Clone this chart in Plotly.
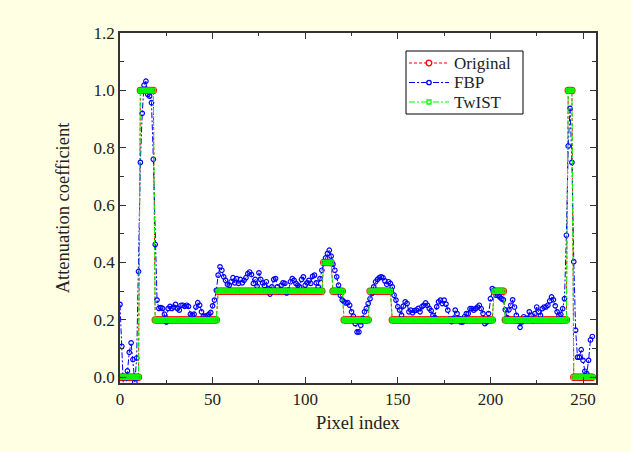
import numpy as np
import plotly.graph_objects as go

# ---- data ----
pixel_count = 256
# Original phantom profile as run-length (level, run)
orig_level = [0.0, 1.0, 0.2, 0.3, 0.4, 0.3, 0.2, 0.3, 0.2, 0.3, 0.2, 1.0, 0.0]
orig_run = [11, 8, 34, 57, 5, 6, 14, 12, 55, 6, 34, 3, 11]
# TwIST reconstruction (visually identical to the original)
twist_level = [0.0, 1.0, 0.2, 0.3, 0.4, 0.3, 0.2, 0.3, 0.2, 0.3, 0.2, 1.0, 0.0]
twist_run = [11, 8, 34, 57, 5, 6, 14, 12, 55, 6, 34, 3, 11]

fbp = [
    0.254, 0.108, -0.06, -0.05, 0.022, 0.087, 0.12, 0.062, -0.017, 0.067,
    0.369, 0.749, 0.92, 1.018, 1.032, 0.986, 0.98, 0.957, 0.76, 0.463,
    0.269, 0.24, 0.243, 0.24, 0.22, 0.193, 0.24, 0.247, 0.24, 0.245,
    0.254, 0.24, 0.234, 0.251, 0.251, 0.247, 0.251, 0.247, 0.22, 0.216,
    0.22, 0.245, 0.26, 0.251, 0.228, 0.213, 0.213, 0.214, 0.22, 0.226,
    0.249, 0.269, 0.303, 0.356, 0.385, 0.373, 0.35, 0.338, 0.324, 0.321,
    0.333, 0.347, 0.329, 0.344, 0.327, 0.341, 0.329, 0.338, 0.347, 0.361,
    0.367, 0.358, 0.327, 0.341, 0.317, 0.364, 0.341, 0.329, 0.32, 0.333,
    0.309, 0.29, 0.315, 0.341, 0.344, 0.315, 0.298, 0.32, 0.329, 0.327,
    0.294, 0.304, 0.333, 0.344, 0.338, 0.327, 0.321, 0.315, 0.341, 0.35,
    0.321, 0.329, 0.338, 0.327, 0.352, 0.356, 0.329, 0.315, 0.344, 0.373,
    0.399, 0.416, 0.431, 0.443, 0.422, 0.394, 0.373, 0.35, 0.321, 0.286,
    0.269, 0.263, 0.259, 0.26, 0.251, 0.228, 0.213, 0.187, 0.158, 0.158,
    0.181, 0.205, 0.228, 0.24, 0.257, 0.274, 0.292, 0.315, 0.333, 0.341,
    0.347, 0.35, 0.347, 0.336, 0.324, 0.333, 0.327, 0.315, 0.286, 0.269,
    0.246, 0.234, 0.216, 0.248, 0.263, 0.257, 0.228, 0.234, 0.225, 0.232,
    0.234, 0.24, 0.228, 0.246, 0.251, 0.259, 0.251, 0.24, 0.232, 0.216,
    0.208, 0.246, 0.263, 0.269, 0.257, 0.269, 0.255, 0.234, 0.202, 0.194,
    0.205, 0.234, 0.222, 0.205, 0.193, 0.193, 0.211, 0.222, 0.222, 0.239,
    0.239, 0.234, 0.239, 0.245, 0.251, 0.239, 0.222, 0.187, 0.193, 0.222,
    0.274, 0.309, 0.303, 0.286, 0.286, 0.28, 0.274, 0.27, 0.235, 0.208,
    0.235, 0.251, 0.27, 0.245, 0.216, 0.198, 0.174, 0.193, 0.211, 0.205,
    0.205, 0.228, 0.216, 0.198, 0.222, 0.245, 0.228, 0.216, 0.239, 0.245,
    0.245, 0.251, 0.266, 0.28, 0.27, 0.249, 0.228, 0.216, 0.219, 0.239,
    0.274, 0.495, 0.806, 0.937, 0.749, 0.403, 0.164, 0.07, 0.07, 0.096,
    0.059, 0.021, 0.013, 0.059, 0.13, 0.142,
]

x_ticks = [0, 50, 100, 150, 200, 250]
y_ticks = [0.0, 0.2, 0.4, 0.6, 0.8, 1.0, 1.2]
series_names = ["Original", "FBP", "TwIST"]
series_colors = ["#FF0000", "#0000FF", "#00FF00"]

# ---- build ----
pix = np.arange(pixel_count)
original = np.repeat(orig_level, orig_run)
twist = np.repeat(twist_level, twist_run)

W, H = 631, 452
ML, MR, MT, MB = 120, 35, 33, 69
FONT = "Liberation Serif, Times New Roman, serif"
DASH_ORIG = "3px,2px"
DASH_DD = "6px,2px,2px,2px"

fig = go.Figure()
fig.add_trace(go.Scatter(
    x=pix, y=original, name=series_names[0], mode="lines+markers",
    line=dict(color=series_colors[0], width=1, dash=DASH_ORIG),
    marker=dict(symbol="circle-open", size=6, color=series_colors[0], line=dict(width=1.3)),
))
fig.add_trace(go.Scatter(
    x=pix[:len(fbp)], y=fbp, name=series_names[1], mode="lines+markers",
    line=dict(color=series_colors[1], width=1, dash=DASH_DD),
    marker=dict(symbol="circle-open", size=4.5, color=series_colors[1], line=dict(width=1.2)),
))
fig.add_trace(go.Scatter(
    x=pix, y=twist, name=series_names[2], mode="lines+markers",
    line=dict(color=series_colors[2], width=1, dash=DASH_DD),
    marker=dict(symbol="square-open", size=4, color=series_colors[2], line=dict(width=1.5)),
))

axis_common = dict(
    showline=True, linecolor="#333333", linewidth=1.5, mirror="ticks",
    ticks="inside", ticklen=6, tickwidth=1, tickcolor="#333333",
    showgrid=False, zeroline=False,
    tickfont=dict(family=FONT, size=17, color="#222222"),
)
fig.update_xaxes(
    range=[0, 257], tickvals=x_ticks,
    minor=dict(dtick=25, tick0=0, ticks="inside", ticklen=3, tickcolor="#333333"),
    title=dict(text="Pixel index", font=dict(family=FONT, size=18.5, color="#222222"), standoff=8),
    **axis_common,
)
fig.update_yaxes(
    range=[-0.02, 1.2], tickvals=y_ticks, tickformat=".1f",
    minor=dict(dtick=0.1, tick0=0, ticks="inside", ticklen=4, tickcolor="#333333"),
    title=dict(text="Attenuation coefficient", font=dict(family=FONT, size=18.5, color="#222222"), standoff=19),
    **axis_common,
)

# ---- hand-drawn compact legend (pixel layout -> paper coords) ----
pw, ph = W - ML - MR, H - MT - MB
def px_x(p):
    return (p - ML) / pw
def px_y(p):
    return (H - MB - p) / ph

shapes = [dict(type="rect", xref="paper", yref="paper",
               x0=px_x(406), x1=px_x(523), y0=px_y(114), y1=px_y(51),
               line=dict(color="#000000", width=1), fillcolor="#FFFFFF", layer="above")]
annotations = []
row_y = [63, 82.5, 102]
dashes = [DASH_ORIG, DASH_DD, DASH_DD]
for name, col, ry, dsh, k in zip(series_names, series_colors, row_y, dashes, range(3)):
    shapes.append(dict(type="line", xref="paper", yref="paper",
                       x0=px_x(409), x1=px_x(449), y0=px_y(ry), y1=px_y(ry),
                       line=dict(color=col, width=1.2, dash=dsh), layer="above"))
    r = [2.8, 2.2, 2.0][k]
    shapes.append(dict(type="circle" if k < 2 else "rect",
                       xref="paper", yref="paper",
                       xsizemode="pixel", ysizemode="pixel",
                       xanchor=px_x(429), yanchor=px_y(ry),
                       x0=-r, x1=r, y0=-r, y1=r,
                       line=dict(color=col, width=1.3), fillcolor="#FFFFFF", layer="above"))
    annotations.append(dict(xref="paper", yref="paper", x=px_x(452), y=px_y(ry),
                            xanchor="left", yanchor="middle", showarrow=False,
                            text=name, font=dict(family=FONT, size=17, color="#222222")))

fig.update_layout(
    width=W, height=H,
    margin=dict(l=ML, r=MR, t=MT, b=MB),
    paper_bgcolor="#FFFFE3", plot_bgcolor="#FFFFFF",
    showlegend=False,
    shapes=shapes, annotations=annotations,
)
fig.write_html("out.html", config={"displayModeBar": False},
               post_script="document.body.style.margin='0px';")
